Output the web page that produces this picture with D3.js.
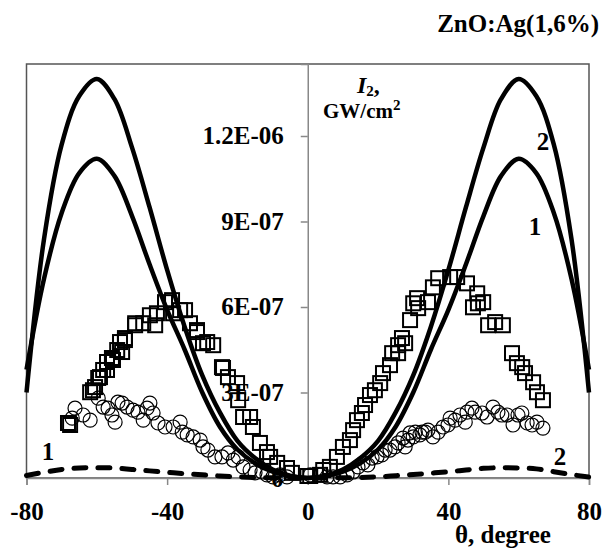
<!DOCTYPE html>
<html><head><meta charset="utf-8">
<script src="https://cdn.jsdelivr.net/npm/d3@7"></script>
<style>body{margin:0;background:#fff}svg{display:block}text{font-family:"Liberation Serif","Times New Roman",serif;font-weight:bold;fill:#000}</style>
</head><body><svg id="c" width="603" height="551"></svg>
<script>
// ---- data ----
const xTicks = [-80, -40, 0, 40, 80];
const yTicks = [0, 3e-7, 6e-7, 9e-7, 1.2e-6];
const yTickLabels = ["0", "3E-07", "6E-07", "9E-07", "1.2E-06"];
const curveTheta = [-80,-75,-70,-65,-60,-55,-50,-45,-40,-35,-30,-25,-20,-15,-10,-5,0,5,10,15,20,25,30,35,40,45,50,55,60,65,70,75,80];
const curve2 = [0.30e-6,0.84e-6,1.17e-6,1.34e-6,1.40e-6,1.33e-6,1.16e-6,0.95e-6,0.73e-6,0.53e-6,0.36e-6,0.23e-6,0.13e-6,0.07e-6,0.03e-6,0.008e-6,0,0.008e-6,0.03e-6,0.07e-6,0.13e-6,0.23e-6,0.36e-6,0.53e-6,0.73e-6,0.95e-6,1.16e-6,1.33e-6,1.40e-6,1.34e-6,1.17e-6,0.84e-6,0.30e-6];
const curve1 = [0.38e-6,0.70e-6,0.93e-6,1.07e-6,1.12e-6,1.06e-6,0.92e-6,0.75e-6,0.59e-6,0.45e-6,0.30e-6,0.18e-6,0.10e-6,0.052e-6,0.022e-6,0.006e-6,0,0.006e-6,0.022e-6,0.052e-6,0.10e-6,0.18e-6,0.30e-6,0.45e-6,0.59e-6,0.75e-6,0.92e-6,1.06e-6,1.12e-6,1.07e-6,0.93e-6,0.70e-6,0.38e-6];
const dashed = [0.009e-6,0.02e-6,0.03e-6,0.035e-6,0.036e-6,0.035e-6,0.03e-6,0.025e-6,0.02e-6,0.015e-6,0.011e-6,0.007e-6,0.004e-6,0.002e-6,0.0008e-6,0.0002e-6,0,0.0002e-6,0.0008e-6,0.002e-6,0.004e-6,0.008e-6,0.012e-6,0.017e-6,0.022e-6,0.028e-6,0.034e-6,0.036e-6,0.035e-6,0.032e-6,0.022e-6,0.012e-6,0.003e-6];
const squareTheta = [-68.2,-67.6,-61.9,-61.1,-60.5,-59.6,-59.1,-58.2,-57.1,-57.1,-55.7,-55.4,-54.2,-53.4,-52.8,-52.0,-52.0,-49.1,-49.1,-46.8,-44.9,-43.4,-42.9,-40.6,-38.6,-38.3,-36.3,-34.9,-33.5,-31.5,-31.5,-29.8,-28.6,-26.9,-24.4,-24.1,-22.7,-20.1,-19.8,-18.4,-16.4,-15.6,-13.6,-11.6,-10.7,-8.7,-5.9,-4.5,
  -0.1,0.7,3.5,4.4,6.3,8.3,10.0,12.0,12.9,14.0,15.4,16.3,17.7,19.1,20.6,21.4,23.4,24.0,25.7,25.7,26.8,27.7,29.1,30.0,31.1,31.4,34.2,35.6,37.1,40.5,42.5,45.3,47.0,48.2,48.4,49.9,51.3,53.3,55.5,58.1,59.5,61.0,61.8,64.1,65.2,66.9];
const squareI = [1.93e-7,1.86e-7,3.01e-7,3.08e-7,3.19e-7,3.51e-7,3.54e-7,3.79e-7,4.07e-7,3.79e-7,4.21e-7,4.14e-7,4.49e-7,4.77e-7,4.42e-7,4.91e-7,4.84e-7,5.43e-7,5.36e-7,5.43e-7,5.71e-7,5.36e-7,5.78e-7,6.17e-7,6.24e-7,5.78e-7,5.89e-7,5.89e-7,5.43e-7,5.19e-7,5.12e-7,4.73e-7,4.77e-7,4.66e-7,3.89e-7,3.86e-7,3.54e-7,3.33e-7,2.73e-7,2.14e-7,2.14e-7,1.79e-7,1.23e-7,0.91e-7,0.74e-7,0.53e-7,0.35e-7,0.18e-7,
  0.07e-7,0.07e-7,0.11e-7,0.28e-7,0.39e-7,0.74e-7,1.09e-7,1.33e-7,1.68e-7,2.03e-7,2.28e-7,2.56e-7,2.91e-7,3.08e-7,3.33e-7,3.68e-7,3.96e-7,4.38e-7,4.38e-7,4.66e-7,4.91e-7,4.73e-7,5.54e-7,6.13e-7,6.31e-7,5.96e-7,6.17e-7,6.69e-7,7.01e-7,7.05e-7,7.05e-7,6.83e-7,5.99e-7,6.48e-7,6.13e-7,6.17e-7,5.36e-7,5.47e-7,5.36e-7,4.38e-7,4.03e-7,3.89e-7,3.68e-7,3.36e-7,3.01e-7,2.73e-7];
const circleTheta = [-67.0,-66.2,-63.9,-61.9,-59.6,-58.2,-56.8,-55.7,-54.8,-54.0,-52.8,-51.4,-49.7,-48.3,-46.8,-45.7,-44.9,-44.0,-42.6,-40.6,-38.3,-36.3,-35.7,-34.3,-32.6,-30.6,-29.8,-28.4,-26.4,-24.4,-22.7,-21.2,-19.8,-18.4,-16.4,-15.0,-13.0,-11.6,-9.9,-7.9,-5.9,
  0.7,3.5,5.5,7.2,9.2,11.2,12.9,14.3,15.7,17.1,18.3,19.7,21.1,22.0,23.4,24.8,25.7,27.1,27.7,28.5,29.1,30.0,30.6,31.9,32.5,33.4,34.2,35.6,37.1,38.5,39.9,40.5,41.9,43.3,44.8,45.3,46.7,47.6,49.6,51.0,52.7,54.1,55.2,56.7,58.4,59.8,60.9,62.4,63.8,65.2,66.9];
const circleI = [2.10e-7,2.45e-7,2.21e-7,2.03e-7,2.80e-7,2.49e-7,2.45e-7,2.21e-7,1.96e-7,2.66e-7,2.63e-7,2.49e-7,2.38e-7,2.31e-7,2.03e-7,2.45e-7,2.63e-7,2.28e-7,1.93e-7,1.79e-7,1.79e-7,1.96e-7,1.61e-7,1.51e-7,1.44e-7,1.33e-7,1.09e-7,0.98e-7,0.74e-7,0.74e-7,0.88e-7,0.63e-7,0.74e-7,0.39e-7,0.28e-7,0.18e-7,0.21e-7,0.11e-7,0.04e-7,0.11e-7,0.04e-7,
  0.11e-7,0.11e-7,0.04e-7,0.04e-7,0.04e-7,0.11e-7,0.21e-7,0.39e-7,0.53e-7,0.46e-7,0.70e-7,0.74e-7,0.81e-7,0.98e-7,0.98e-7,1.09e-7,1.23e-7,1.40e-7,1.09e-7,1.33e-7,1.58e-7,1.44e-7,1.61e-7,1.51e-7,1.61e-7,1.61e-7,1.68e-7,1.44e-7,1.61e-7,1.79e-7,1.86e-7,2.10e-7,2.03e-7,2.21e-7,1.96e-7,2.31e-7,2.45e-7,2.31e-7,2.28e-7,2.14e-7,2.49e-7,2.31e-7,2.21e-7,2.21e-7,1.86e-7,2.21e-7,2.28e-7,1.93e-7,1.86e-7,1.96e-7,1.75e-7];

// ---- chart ----
const svg = d3.select("#c");
const x = d3.scaleLinear().domain([-80, 80]).range([26.5, 589]);
const y = d3.scaleLinear().domain([0, 1.4526e-6]).range([478, 64]);

// frame
svg.append("rect").attr("x", x(-80)).attr("y", y(1.4526e-6)).attr("width", x(80) - x(-80)).attr("height", y(0) - y(1.4526e-6))
  .attr("fill", "none").attr("stroke", "#555").attr("stroke-width", 1.5);

const yAxis = svg.append("g").attr("transform", `translate(${x(0)},0)`)
  .call(d3.axisLeft(y).tickValues(yTicks).tickSize(7).tickFormat((d, i) => yTickLabels[i]));
yAxis.select(".domain").attr("stroke", "#888").attr("stroke-width", 1.5);
yAxis.selectAll(".tick line").attr("stroke", "#888").attr("stroke-width", 1.5);
yAxis.selectAll(".tick text").attr("x", -24).attr("font-size", 25).attr("font-family", "Liberation Serif").attr("font-weight", "bold").attr("fill", "#000");

const xAxis = svg.append("g").attr("transform", `translate(0,${y(0)})`)
  .call(d3.axisBottom(x).tickValues(xTicks).tickSize(7).tickFormat(d3.format("d")));
xAxis.select(".domain").attr("stroke", "#888").attr("stroke-width", 1.5);
xAxis.selectAll(".tick line").attr("stroke", "#888").attr("stroke-width", 1.5);
xAxis.selectAll(".tick text").attr("y", 24).attr("font-size", 25).attr("font-family", "Liberation Serif").attr("font-weight", "bold").attr("fill", "#000")
  .text(d => d < 0 ? "-" + Math.abs(d) : d);

// markers
const sq = 14;
svg.append("g").selectAll("rect").data(squareTheta).join("rect")
  .attr("x", d => x(d) - sq / 2).attr("y", (d, i) => y(squareI[i]) - sq / 2)
  .attr("width", sq).attr("height", sq).attr("fill", "none").attr("stroke", "#000").attr("stroke-width", 2);
svg.append("g").selectAll("circle").data(circleTheta).join("circle")
  .attr("cx", d => x(d)).attr("cy", (d, i) => y(circleI[i])).attr("r", 7)
  .attr("fill", "none").attr("stroke", "#000").attr("stroke-width", 1.2);

// curves
const line = d3.line().x((d, i) => x(curveTheta[i])).y(d => y(d)).curve(d3.curveCatmullRom.alpha(0.5));
[curve2, curve1].forEach(c => svg.append("path").attr("d", line(c)).attr("fill", "none").attr("stroke", "#000").attr("stroke-width", 4.5));
svg.append("path").attr("d", line(dashed)).attr("fill", "none").attr("stroke", "#000").attr("stroke-width", 5)
  .attr("stroke-dasharray", "12,12").attr("stroke-linecap", "round");

// annotations
svg.append("text").attr("x", 599).attr("y", 32).attr("text-anchor", "end").attr("font-size", 25).text("ZnO:Ag(1,6%)");
const yt = svg.append("text").attr("x", 357).attr("y", 93).attr("font-size", 24);
yt.append("tspan").attr("font-style", "italic").text("I");
yt.append("tspan").attr("font-size", 15).attr("dy", 3).text("2");
yt.append("tspan").attr("dy", -3).text(",");
const gw = svg.append("text").attr("x", 323).attr("y", 118).attr("font-size", 21);
gw.append("tspan").text("GW/cm");
gw.append("tspan").attr("font-size", 15).attr("dy", -8).text("2");
svg.append("text").attr("x", 503).attr("y", 543).attr("text-anchor", "middle").attr("font-size", 25).text("θ, degree");
svg.append("text").attr("x", 543).attr("y", 150).attr("text-anchor", "middle").attr("font-size", 25).text("2");
svg.append("text").attr("x", 535).attr("y", 235).attr("text-anchor", "middle").attr("font-size", 25).text("1");
svg.append("text").attr("x", 48).attr("y", 460).attr("text-anchor", "middle").attr("font-size", 25).text("1");
svg.append("text").attr("x", 560).attr("y", 465).attr("text-anchor", "middle").attr("font-size", 25).text("2");
</script></body></html>
